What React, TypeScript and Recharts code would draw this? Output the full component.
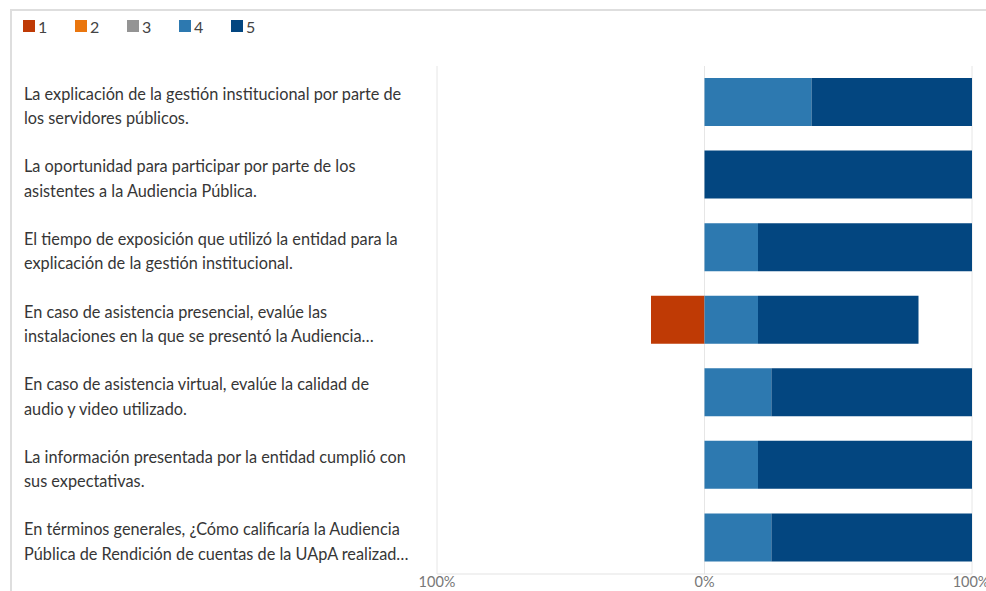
import React from "react";
import { BarChart, Bar, XAxis, YAxis, CartesianGrid, Legend } from "recharts";

const categories = [
  "La explicación de la gestión institucional por parte de\nlos servidores públicos.",
  "La oportunidad para participar por parte de los\nasistentes a la Audiencia Pública.",
  "El tiempo de exposición que utilizó la entidad para la\nexplicación de la gestión institucional.",
  "En caso de asistencia presencial, evalúe las\ninstalaciones en la que se presentó la Audiencia…",
  "En caso de asistencia virtual, evalúe la calidad de\naudio y video utilizado.",
  "La información presentada por la entidad cumplió con\nsus expectativas.",
  "En términos generales, ¿Cómo calificaría la Audiencia\nPública de Rendición de cuentas de la UApA realizad…",
];

const seriesNames = ["1", "2", "3", "4", "5"];
const seriesColors = ["#BF3A05", "#EA760E", "#949494", "#2D79B0", "#034680"];

const values1 = [0, 0, 0, -20, 0, 0, 0];
const values2 = [0, 0, 0, 0, 0, 0, 0];
const values3 = [0, 0, 0, 0, 0, 0, 0];
const values4 = [40, 0, 20, 20, 25, 20, 25];
const values5 = [60, 100, 80, 60, 75, 80, 75];

const xTicks = [-100, 0, 100];

const data = categories.map((name, i) => ({
  name,
  "1": values1[i],
  "2": values2[i],
  "3": values3[i],
  "4": values4[i],
  "5": values5[i],
}));

const FONT = "Lato, 'Liberation Sans', sans-serif";

const LabelTick = (props: any) => {
  const { y, payload } = props;
  const lines = String(payload.value).split("\n");
  return (
    <text x={12} y={y} fill="#363636" fontSize={16.3} fontFamily={FONT}>
      {lines.map((l, i) => (
        <tspan key={i} x={12} y={y - 2.5 + i * 24.5}>
          {l}
        </tspan>
      ))}
    </text>
  );
};

const LegendContent = (props: any) => {
  const { payload } = props;
  return (
    <div style={{ display: "flex", fontFamily: FONT, fontSize: 16, color: "#444", height: 20 }}>
      {(payload || []).map((p: any, i: number) => (
        <div key={i} style={{ display: "flex", alignItems: "center", width: 52 }}>
          <div style={{ width: 12, height: 12, background: p.color, marginRight: 3 }} />
          <span>{p.value}</span>
        </div>
      ))}
    </div>
  );
};

export default function App() {
  return (
    <div
      style={{
        position: "fixed",
        left: 10,
        top: 9,
        width: 976,
        height: 582,
        borderTop: "2px solid #dedede",
        borderLeft: "2px solid #dedede",
        background: "#fff",
        overflow: "hidden",
      }}
    >
      <BarChart
        width={976}
        height={582}
        data={data}
        layout="vertical"
        stackOffset="sign"
        barSize={48}
        margin={{ top: 35, right: 16, bottom: 0, left: 12 }}
      >
        <CartesianGrid horizontal={false} stroke="#e6e6e6" />
        <Legend
          verticalAlign="top"
          align="left"
          content={<LegendContent />}
          wrapperStyle={{ top: 5, left: 11, width: "auto" }}
        />
        <XAxis
          type="number"
          domain={[-100, 100]}
          ticks={xTicks}
          tickFormatter={(v: number) => `${Math.abs(v)}%`}
          axisLine={{ stroke: "#e3e3e3" }}
          tickLine={false}
          tickSize={0}
          tickMargin={3}
          height={19}
          tick={{ fill: "#777", fontSize: 14.5, fontFamily: FONT }}
        />
        <YAxis
          type="category"
          dataKey="name"
          width={413}
          axisLine={false}
          tickLine={false}
          interval={0}
          tick={<LabelTick />}
        />
        {seriesNames.map((s, i) => (
          <Bar key={s} dataKey={s} stackId="a" fill={seriesColors[i]} isAnimationActive={false} />
        ))}
      </BarChart>
    </div>
  );
}
